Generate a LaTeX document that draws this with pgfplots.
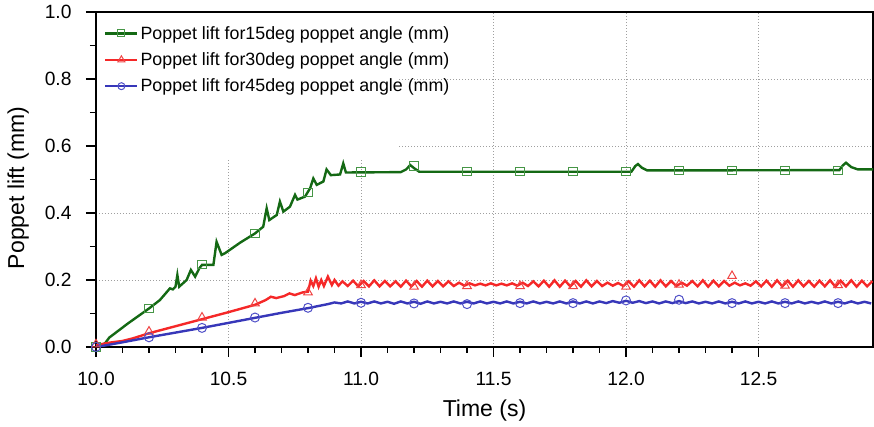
\documentclass[border=0pt]{standalone}
\usepackage{fontspec}
\setmainfont{Liberation Sans}
\usepackage{pgfplots}
\pgfplotsset{compat=1.18}

\definecolor{gline}{RGB}{20,105,20}
\definecolor{gmark}{RGB}{70,150,70}
\definecolor{rline}{RGB}{245,40,40}
\definecolor{rmark}{RGB}{240,70,70}
\definecolor{bline}{RGB}{55,55,185}
\definecolor{bmark}{RGB}{80,80,200}

\pgfplotsset{
  greenline/.style={color=gline, line width=2.4pt, mark=none, sharp plot},
  redline/.style={color=rline, line width=2.4pt, mark=none, sharp plot},
  blueline/.style={color=bline, line width=2.4pt, mark=none, sharp plot},
  greenmarks/.style={only marks, mark=square, mark size=4.2pt,
    mark options={solid, draw=gmark, fill=none, line width=1pt}},
  redmarks/.style={only marks, mark=triangle, mark size=5pt,
    mark options={solid, draw=rmark, fill=none, line width=1pt}},
  bluemarks/.style={only marks, mark=o, mark size=4.5pt,
    mark options={solid, draw=bmark, fill=none, line width=1pt}},
}

\begin{document}
\begin{tikzpicture}
\begin{axis}[
  name=ax, at={(0pt,0pt)}, anchor=south west,
  scale only axis, width=777pt, height=335pt,
  xmin=10, xmax=12.932, ymin=0, ymax=1,
  xtick={10,10.5,11,11.5,12,12.5}, minor x tick num=4,
  ytick={0,0.2,0.4,0.6,0.8,1.0}, minor y tick num=1,
  tick pos=left, tick align=outside,
  major tick length=10pt, minor tick length=6pt,
  every tick/.style={black, line width=1.3pt},
  axis line style={line width=1.4pt},
  grid=major,
  major grid style={gray!75, line width=0.8pt, dash pattern=on 1pt off 2pt},
  /pgf/number format/assume math mode=true,
  xticklabel style={font=\fontsize{19.2}{22}\selectfont, yshift=-12pt,
    /pgf/number format/.cd, fixed, fixed zerofill, precision=1},
  yticklabel style={font=\fontsize{19.2}{22}\selectfont, xshift=-11pt,
    /pgf/number format/.cd, fixed, fixed zerofill, precision=1},
  xlabel={Time (s)}, ylabel={Poppet lift (mm)},
  label style={font=\fontsize{23}{26}\selectfont},
  xlabel style={at={(axis description cs:0.5,-0.190)}, anchor=center},
  ylabel style={at={(axis description cs:-0.100,0.475)}, anchor=center},
  legend style={at={(axis description cs:0,1)}, anchor=north west,
    xshift=2pt, yshift=-6pt,
    draw=none, fill=none, font=\fontsize{17.8}{20}\selectfont,
    row sep=8pt, inner xsep=6pt, inner ysep=6pt},
  legend cell align=left,
  legend image code/.code={%
    \draw[#1, mark repeat=2, mark phase=2]
      plot coordinates {(0pt,0pt) (16pt,0pt) (32pt,0pt)};},
]

% blank panel behind the legend
\fill[white] (rel axis cs:0.002,0.565) rectangle (rel axis cs:0.3895,0.998);

% 15 deg poppet angle
\addplot[greenline, forget plot] coordinates {
(10.000,0.000) (10.020,0.003) (10.035,0.012) (10.050,0.028) (10.070,0.040)
(10.120,0.070) (10.200,0.115) (10.241,0.140) (10.279,0.175) (10.290,0.172)
(10.300,0.180) (10.307,0.215) (10.314,0.180) (10.342,0.200) (10.358,0.230)
(10.374,0.210) (10.390,0.235) (10.400,0.245) (10.443,0.245) (10.455,0.314)
(10.474,0.275) (10.487,0.280) (10.543,0.311) (10.600,0.339) (10.631,0.359)
(10.644,0.414) (10.654,0.379) (10.682,0.394) (10.694,0.434) (10.707,0.404)
(10.732,0.419) (10.751,0.454) (10.760,0.440) (10.789,0.449) (10.808,0.474)
(10.820,0.503) (10.833,0.484) (10.858,0.494) (10.870,0.530) (10.886,0.513)
(10.921,0.515) (10.933,0.548) (10.943,0.521) (10.960,0.521) (11.150,0.522)
(11.170,0.530) (11.186,0.543) (11.200,0.534) (11.220,0.523) (12.020,0.523)
(12.035,0.540) (12.045,0.546) (12.060,0.535) (12.080,0.527) (12.805,0.528)
(12.818,0.542) (12.830,0.550) (12.850,0.537) (12.875,0.530) (12.932,0.530)
};
\addplot[greenmarks, forget plot] coordinates {
(10.0,0.000) (10.2,0.115) (10.4,0.247) (10.6,0.339) (10.8,0.462)
(11.0,0.522) (11.2,0.540) (11.4,0.523) (11.6,0.523) (11.8,0.523)
(12.0,0.523) (12.2,0.526) (12.4,0.526) (12.6,0.527) (12.8,0.527)
};

% 30 deg poppet angle
\addplot[redline, forget plot] coordinates {
(10.000,0.005) (10.030,0.010) (10.060,0.014) (10.100,0.018) (10.140,0.026)
(10.200,0.041) (10.300,0.062) (10.400,0.083) (10.500,0.104) (10.600,0.126)
(10.640,0.140) (10.660,0.150) (10.680,0.146) (10.710,0.152) (10.730,0.160)
(10.750,0.155) (10.780,0.163) (10.800,0.165) (10.810,0.198) (10.820,0.182)
(10.830,0.205) (10.840,0.180) (10.850,0.200) (10.860,0.182) (10.875,0.210)
(10.890,0.185) (10.900,0.200) (10.915,0.183) (10.930,0.196)
(10.95,0.182) (10.97,0.198) (10.99,0.181) (11.01,0.197) (11.03,0.181)
(11.05,0.199) (11.07,0.181) (11.09,0.197) (11.11,0.181) (11.13,0.196)
(11.15,0.180) (11.17,0.198) (11.19,0.181) (11.21,0.197) (11.23,0.180)
(11.25,0.198) (11.27,0.181) (11.29,0.197) (11.31,0.181) (11.33,0.196)
(11.35,0.182) (11.37,0.192) (11.39,0.183) (11.41,0.190) (11.43,0.184)
(11.45,0.189) (11.47,0.184) (11.49,0.190) (11.51,0.184) (11.53,0.189)
(11.55,0.184) (11.57,0.190) (11.59,0.183) (11.61,0.192) (11.63,0.182)
(11.65,0.196) (11.67,0.181) (11.69,0.198) (11.71,0.180) (11.73,0.199)
(11.75,0.180) (11.77,0.198) (11.79,0.181) (11.81,0.197) (11.83,0.180)
(11.85,0.199) (11.87,0.181) (11.89,0.197) (11.91,0.182) (11.93,0.192)
(11.95,0.183) (11.97,0.191) (11.99,0.182) (12.01,0.196) (12.03,0.180)
(12.05,0.199) (12.07,0.181) (12.09,0.198) (12.11,0.180) (12.13,0.199)
(12.15,0.181) (12.17,0.197) (12.19,0.182) (12.21,0.192) (12.23,0.183)
(12.25,0.197) (12.27,0.181) (12.29,0.199) (12.31,0.180) (12.33,0.198)
(12.35,0.181) (12.37,0.197) (12.39,0.183) (12.41,0.192) (12.43,0.184)
(12.45,0.190) (12.47,0.183) (12.49,0.196) (12.51,0.181) (12.53,0.198)
(12.55,0.180) (12.57,0.199) (12.59,0.181) (12.61,0.198) (12.63,0.180)
(12.65,0.199) (12.67,0.181) (12.69,0.197) (12.71,0.180) (12.73,0.198)
(12.75,0.181) (12.77,0.199) (12.79,0.180) (12.81,0.198) (12.83,0.181)
(12.85,0.199) (12.87,0.180) (12.89,0.198) (12.91,0.181) (12.93,0.197)
};
\addplot[redmarks, forget plot] coordinates {
(10.0,0.008) (10.2,0.046) (10.4,0.088) (10.6,0.130) (10.8,0.163)
(11.0,0.185) (11.2,0.180) (11.4,0.182) (11.6,0.182) (11.8,0.182)
(12.0,0.180) (12.2,0.186) (12.4,0.212) (12.6,0.183) (12.8,0.185)
};

% 45 deg poppet angle
\addplot[blueline, forget plot] coordinates {
(10.000,0.000) (10.030,0.004) (10.100,0.014) (10.200,0.029) (10.300,0.043)
(10.400,0.057) (10.500,0.072) (10.600,0.087) (10.700,0.102) (10.800,0.116)
(10.850,0.124) (10.875,0.128) (10.900,0.133)
(10.925,0.130) (10.950,0.136) (10.975,0.130) (11.000,0.135) (11.025,0.130)
(11.050,0.136) (11.075,0.130) (11.100,0.135) (11.125,0.129) (11.150,0.136)
(11.175,0.130) (11.200,0.135) (11.225,0.129) (11.250,0.136) (11.275,0.130)
(11.300,0.135) (11.325,0.130) (11.350,0.136) (11.375,0.130) (11.400,0.135)
(11.425,0.130) (11.450,0.136) (11.475,0.130) (11.500,0.135) (11.525,0.130)
(11.550,0.136) (11.575,0.130) (11.600,0.135) (11.625,0.130) (11.650,0.136)
(11.675,0.130) (11.700,0.135) (11.725,0.130) (11.750,0.136) (11.775,0.130)
(11.800,0.136) (11.825,0.130) (11.850,0.136) (11.875,0.130) (11.900,0.136)
(11.925,0.131) (11.950,0.137) (11.975,0.132) (12.000,0.138) (12.025,0.132)
(12.050,0.137) (12.075,0.131) (12.100,0.136) (12.125,0.130) (12.150,0.136)
(12.175,0.131) (12.200,0.137) (12.225,0.131) (12.250,0.136) (12.275,0.130)
(12.300,0.135) (12.325,0.130) (12.350,0.136) (12.375,0.130) (12.400,0.135)
(12.425,0.130) (12.450,0.136) (12.475,0.130) (12.500,0.135) (12.525,0.130)
(12.550,0.136) (12.575,0.130) (12.600,0.135) (12.625,0.130) (12.650,0.136)
(12.675,0.130) (12.700,0.135) (12.725,0.130) (12.750,0.136) (12.775,0.130)
(12.800,0.135) (12.825,0.130) (12.850,0.136) (12.875,0.130) (12.900,0.135)
(12.925,0.130)
};
\addplot[bluemarks, forget plot] coordinates {
(10.0,0.000) (10.2,0.029) (10.4,0.057) (10.6,0.088) (10.8,0.117)
(11.0,0.132) (11.2,0.130) (11.4,0.128) (11.6,0.131) (11.8,0.131)
(12.0,0.139) (12.2,0.141) (12.4,0.131) (12.6,0.131) (12.8,0.131)
};

\addlegendimage{color=gline, line width=2.4pt, mark=square, mark size=3.5pt,
  mark options={solid, draw=gmark, fill=none, line width=1pt}}
\addlegendentry{Poppet lift for15deg poppet angle (mm)}
\addlegendimage{color=rline, line width=2.4pt, mark=triangle, mark size=4pt,
  mark options={solid, draw=rmark, fill=none, line width=1pt}}
\addlegendentry{Poppet lift for30deg poppet angle (mm)}
\addlegendimage{color=bline, line width=2.4pt, mark=o, mark size=3.5pt,
  mark options={solid, draw=bmark, fill=none, line width=1pt}}
\addlegendentry{Poppet lift for45deg poppet angle (mm)}
\end{axis}
\pgfresetboundingbox
\path (-96pt,-80pt) rectangle (778pt,347pt);
\end{tikzpicture}
\end{document}
